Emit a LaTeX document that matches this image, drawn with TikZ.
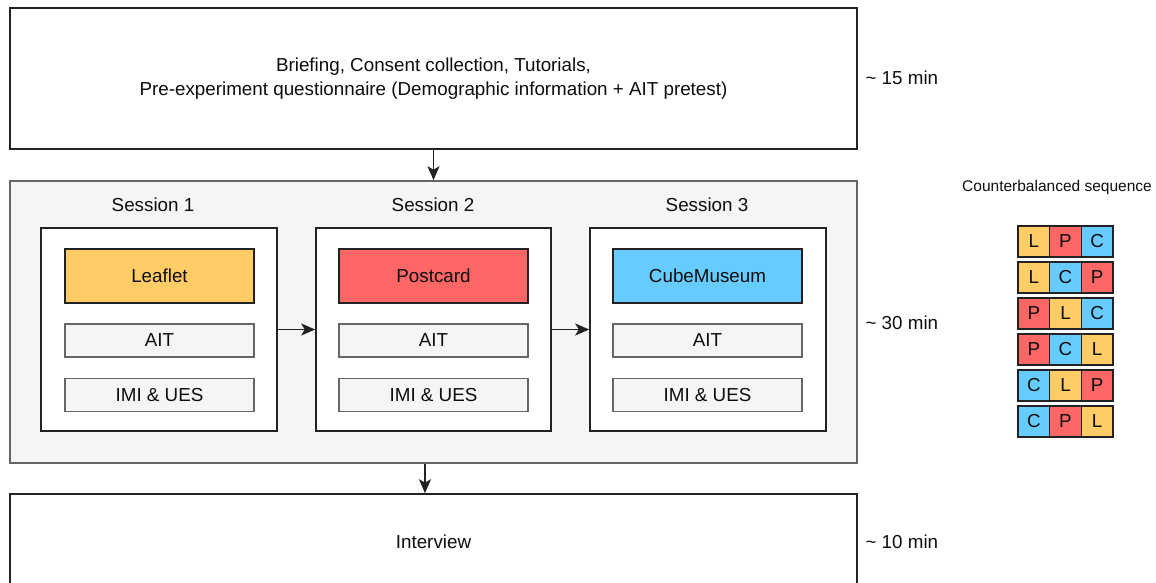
\documentclass[tikz,border=0pt]{standalone}
\usepackage{fontspec}
\setmainfont{Liberation Sans}
\usetikzlibrary{arrows.meta}
\definecolor{lcol}{HTML}{FFCC66}
\definecolor{pcol}{HTML}{FF6666}
\definecolor{ccol}{HTML}{66CCFF}
\colorlet{colL}{lcol}
\colorlet{colP}{pcol}
\colorlet{colC}{ccol}
\definecolor{gfill}{HTML}{F5F5F5}
\definecolor{gline}{HTML}{666666}
\definecolor{dline}{HTML}{222222}
\begin{document}
\begin{tikzpicture}[x=1pt,y=-1pt,
  every node/.style={font=\fontsize{18.8}{24}\selectfont, text=black!95},
  bigbox/.style={draw=dline, line width=1.6pt, fill=white, minimum width=847pt, inner sep=0pt, align=center},
  sessbox/.style={draw=dline, line width=1.6pt, fill=white, minimum height=203pt, inner sep=0pt},
  media/.style={draw=dline, line width=1.5pt, minimum width=189pt, minimum height=54pt, inner sep=0pt},
  meas/.style={draw=gline, line width=1.5pt, fill=gfill, minimum width=189pt, minimum height=33pt, inner sep=0pt},
  cellbox/.style={draw=dline, line width=1.5pt, minimum width=31.6pt, minimum height=31pt, inner sep=0pt},
  timelbl/.style={anchor=west},
  arr/.style={-{Stealth[length=14pt,width=12pt,inset=3.5pt]}, line width=1.6pt, draw=dline}]
\useasboundingbox (0,0) rectangle (1156,583);
\clip (0,0) rectangle (1156,583);

% top box
\node[bigbox, minimum height=141pt] (top) at (433.5,78.5)
  {Briefing, Consent collection, Tutorials,\\Pre-experiment questionnaire (Demographic information + AIT pretest)};
\node[timelbl] (t1) at (862,78) {\textasciitilde{} 15 min};

% group box
\node[draw=gline, line width=1.6pt, fill=gfill, minimum width=847pt, minimum height=282pt, inner sep=0pt] (grp) at (433.5,322) {};
\node[timelbl] (t2) at (862,323) {\textasciitilde{} 30 min};

% sessions
\node (sl1) at (153,205) {Session 1};
\node (sl2) at (433,205) {Session 2};
\node (sl3) at (707,205) {Session 3};

\node[sessbox, minimum width=236pt] (s1) at (159,329.5) {};
\node[sessbox, minimum width=235pt] (s2) at (433.5,329.5) {};
\node[sessbox, minimum width=236pt] (s3) at (708,329.5) {};

\node[media, fill=lcol] (m1) at (159.5,276) {Leaflet};
\node[media, fill=pcol] (m2) at (433.5,276) {Postcard};
\node[media, fill=ccol] (m3) at (707.5,276) {CubeMuseum};

\node[meas] (a1) at (159.5,340.5) {AIT};
\node[meas] (a2) at (433.5,340.5) {AIT};
\node[meas] (a3) at (707.5,340.5) {AIT};

\node[meas] (q1) at (159.5,395) {IMI \& UES};
\node[meas] (q2) at (433.5,395) {IMI \& UES};
\node[meas] (q3) at (707.5,395) {IMI \& UES};

% interview
\node[bigbox, minimum height=96pt] (intv) at (433.5,542) {Interview};
\node[timelbl] (t3) at (862,542) {\textasciitilde{} 10 min};

% arrows
\draw[arr] (top.south) -- (grp.north);
\draw[arr] (s1.east) -- (s2.west);
\draw[arr] (s2.east) -- (s3.west);
\draw[arr] ([xshift=-8.5pt]grp.south) -- ([xshift=-8.5pt]intv.north);

% counterbalanced sequence
\node[font=\fontsize{15.5}{18}\selectfont] (cbt) at (1057,187) {Counterbalanced sequence};
\foreach \r/\a/\b/\c in {1/L/P/C, 2/L/C/P, 3/P/L/C, 4/P/C/L, 5/C/L/P, 6/C/P/L}{
  \foreach \ch [count=\j] in {\a,\b,\c}{
    \pgfmathsetmacro{\cx}{1033.8+31.7*(\j-1)}
    \pgfmathsetmacro{\cy}{241.5+36*(\r-1)}
    \node[cellbox, fill=col\ch] (cell-\r-\j) at (\cx,\cy) {\ch};
  }
}
\end{tikzpicture}
\end{document}
